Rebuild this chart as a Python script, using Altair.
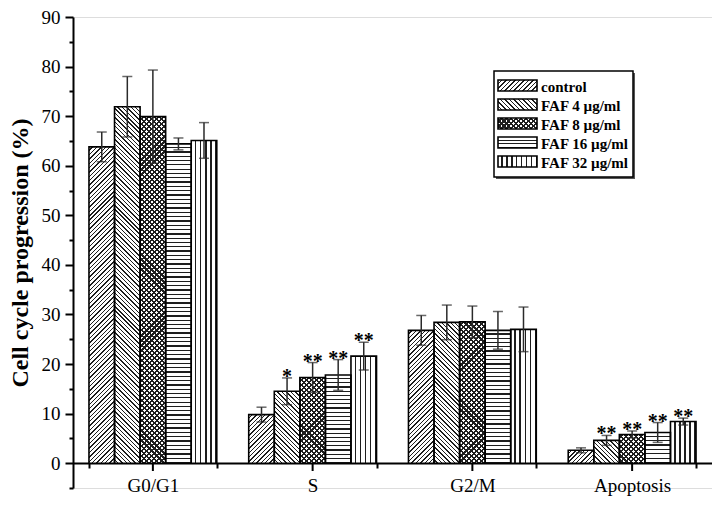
import altair as alt
import pandas as pd

cats = ["G0/G1", "S", "G2/M", "Apoptosis"]
series = ["control", "FAF 4 µg/ml", "FAF 8 µg/ml", "FAF 16 µg/ml", "FAF 32 µg/ml"]

mean_control = [63.8, 9.8, 26.8, 2.6]
mean_faf4 = [71.9, 14.5, 28.4, 4.6]
mean_faf8 = [69.9, 17.3, 28.5, 5.8]
mean_faf16 = [64.4, 17.8, 26.8, 6.2]
mean_faf32 = [65.1, 21.6, 27.0, 8.4]

err_control = [3.0, 1.5, 3.0, 0.5]
err_faf4 = [6.1, 2.7, 3.5, 1.0]
err_faf8 = [9.4, 3.0, 3.2, 0.7]
err_faf16 = [1.2, 3.1, 3.8, 2.0]
err_faf32 = [3.6, 2.8, 4.5, 0.7]

star_control = ["", "", "", ""]
star_faf4 = ["", "*", "", "**"]
star_faf8 = ["", "**", "", "**"]
star_faf16 = ["", "**", "", "**"]
star_faf32 = ["", "**", "", "**"]

y_ticks = list(range(-5, 91, 5))

means = [mean_control, mean_faf4, mean_faf8, mean_faf16, mean_faf32]
errs = [err_control, err_faf4, err_faf8, err_faf16, err_faf32]
stars = [star_control, star_faf4, star_faf8, star_faf16, star_faf32]
kinds = ["fwd", "back", "cross", "horiz", "vert"]

rows = []
for s, vals, es, st in zip(series, means, errs, stars):
    for c, v, e, t in zip(cats, vals, es, st):
        rows.append(dict(cat=c, series=s, mean=v, lo=v - e, hi=v + e, star=t))
df = pd.DataFrame(rows)

# ---- layout constants (plot area) ----
TOP = 9
W, H = 639, 471
YMIN, YMAX = -5, 90
PX = H / (YMAX - YMIN)
X_OFF = -round(5 * PX)          # x axis sits at y = 0
BAR_W = W / 4 * 0.8 / 5
SERIF = "Liberation Serif"
DARK = "#1e1e1e"


def stops(n, frac, light="#ffffff", dark=DARK):
    out = []
    n = max(1, int(round(n)))
    for i in range(n):
        a = i / n
        b = (i + 1 - frac) / n
        c = (i + 1) / n
        out += [
            {"offset": round(a, 5), "color": light},
            {"offset": round(b, 5), "color": light},
            {"offset": round(b, 5), "color": dark},
            {"offset": round(c, 5), "color": dark},
        ]
    return out


def grad(kind, w, h, light="#ffffff", period=None, frac=None):
    if kind in ("fwd", "back"):
        P = period or 4.4
        fr = frac or 0.32
        k = (w + h) / (w * w + h * h)
        n = (w + h) / P
        if kind == "fwd":
            return {"gradient": "linear", "x1": 0, "y1": 0, "x2": k * w, "y2": k * h,
                    "stops": stops(n, fr, light)}
        return {"gradient": "linear", "x1": 0, "y1": 1, "x2": k * w, "y2": 1 - k * h,
                "stops": stops(n, fr, light)}
    if kind == "horiz":
        return {"gradient": "linear", "x1": 0, "y1": 0, "x2": 0, "y2": 1,
                "stops": stops(h / 4.3, 0.3, light)}
    if kind == "vert":
        return {"gradient": "linear", "x1": 0, "y1": 0, "x2": 1, "y2": 0,
                "stops": stops(w / 4.7, 0.3, light)}


def fills(kind, w, h):
    """list of gradient fills to stack for a pattern"""
    if kind == "cross":
        return [grad("fwd", w, h, period=5.0, frac=0.42),
                grad("back", w, h, light="rgba(255,255,255,0)", period=5.0, frac=0.42)]
    return [grad(kind, w, h)]


X = alt.X("cat:N", sort=cats,
          scale=alt.Scale(domain=cats, paddingInner=0.2, paddingOuter=0.1),
          axis=alt.Axis(title=None, labelAngle=0, offset=X_OFF, tickBand="extent",
                        tickSize=5, tickWidth=2, tickColor="black",
                        domainColor="black", domainWidth=2,
                        labelFont=SERIF, labelFontSize=19, labelColor="black",
                        labelPadding=8))
XO = alt.XOffset("series:N", sort=series,
                 scale=alt.Scale(domain=series, paddingInner=0, paddingOuter=0))
YAX = alt.Axis(title="Cell cycle progression (%)", values=y_ticks,
               labelExpr="datum.value >= 0 && datum.value % 10 == 0 ? datum.label : ''",
               tickSize={"condition": {"test": "datum.value % 10 != 0", "value": 4}, "value": 8},
               tickWidth=2, tickColor="black", domainColor="black", domainWidth=2,
               labelFont=SERIF, labelFontSize=19, labelColor="black", labelPadding=5,
               titleFont=SERIF, titleFontSize=24, titleFontWeight="bold",
               titleColor="black", titlePadding=9, grid=False)
YS = alt.Scale(domain=[YMIN, YMAX], nice=False, zero=False)


def Y(field):
    return alt.Y(f"{field}:Q", scale=YS, axis=YAX)


base = alt.Chart(df)
layers = []

# hatched bars, one layer per bar so each pattern fits its own bar
for s, kind, vals in zip(series, kinds, means):
    for c, v in zip(cats, vals):
        h = v * PX
        for f in fills(kind, BAR_W, h):
            layers.append(
                base.transform_filter(f"datum.cat === '{c}' && datum.series === '{s}'")
                .mark_bar(fill=f, strokeWidth=0)
                .encode(x=X, xOffset=XO, y=Y("mean"))
            )

# outlines
layers.append(base.mark_bar(fillOpacity=0, stroke="black", strokeWidth=1.6)
              .encode(x=X, xOffset=XO, y=Y("mean")))

# error bars
ERRC = "#2a2a2a"
layers.append(base.mark_rule(color=ERRC, strokeWidth=1.5)
              .encode(x=X, xOffset=XO, y=Y("lo"), y2="hi:Q"))
layers.append(base.mark_tick(color=ERRC, thickness=1.5, size=10)
              .encode(x=X, xOffset=XO, y=Y("hi")))
layers.append(base.mark_tick(color=ERRC, thickness=1.5, size=10)
              .encode(x=X, xOffset=XO, y=Y("lo")))

# significance stars
layers.append(base.mark_text(font=SERIF, fontSize=20, fontWeight="bold", color="black",
                             baseline="alphabetic", dy=5)
              .encode(x=X, xOffset=XO, y=Y("hi"), text="star:N"))

# long ticks at category centres
cat_df = pd.DataFrame({"cat": cats})
layers.append(alt.Chart(cat_df).mark_rule(color="black", strokeWidth=2)
              .encode(x=X, y=alt.Y(datum=0, scale=YS, axis=YAX), y2=alt.value(H + X_OFF + 8)))

# ---- manual legend with patterned swatches ----
one = alt.Chart(pd.DataFrame({"a": [0]}))
LX0, LX1, LY0, LY1 = 421, 560, 63 - TOP, 169 - TOP
layers.append(one.mark_rect(fill="#555555").encode(
    x=alt.value(LX0 + 2), x2=alt.value(LX1 + 2), y=alt.value(LY0 + 2), y2=alt.value(LY1 + 2)))
layers.append(one.mark_rect(fill="white", stroke="black", strokeWidth=1.5).encode(
    x=alt.value(LX0), x2=alt.value(LX1), y=alt.value(LY0), y2=alt.value(LY1)))
SW_X0, SW_X1, SW_H = 425, 464, 11
for i, (s, kind) in enumerate(zip(series, kinds)):
    cy = LY0 + 14.5 + 19 * i
    for f in fills(kind, SW_X1 - SW_X0, SW_H):
        layers.append(one.mark_rect(fill=f).encode(
            x=alt.value(SW_X0), x2=alt.value(SW_X1),
            y=alt.value(cy - SW_H / 2), y2=alt.value(cy + SW_H / 2)))
    layers.append(one.mark_rect(fillOpacity=0, stroke="black", strokeWidth=1.6).encode(
        x=alt.value(SW_X0), x2=alt.value(SW_X1),
        y=alt.value(cy - SW_H / 2), y2=alt.value(cy + SW_H / 2)))
    layers.append(one.mark_text(font=SERIF, fontSize=15, fontWeight="bold", color="black",
                                align="left", baseline="middle").encode(
        x=alt.value(SW_X1 + 4), y=alt.value(cy + 1), text=alt.value(s)))

chart = alt.layer(*layers).properties(
    width=W, height=H,
    autosize=alt.AutoSizeParams(type="none"),
    padding={"left": 65, "top": TOP, "right": 0, "bottom": 14},
).configure_view(stroke=None).configure(background="white")

chart.save("out.html", embed_options={"renderer": "svg", "actions": False})
